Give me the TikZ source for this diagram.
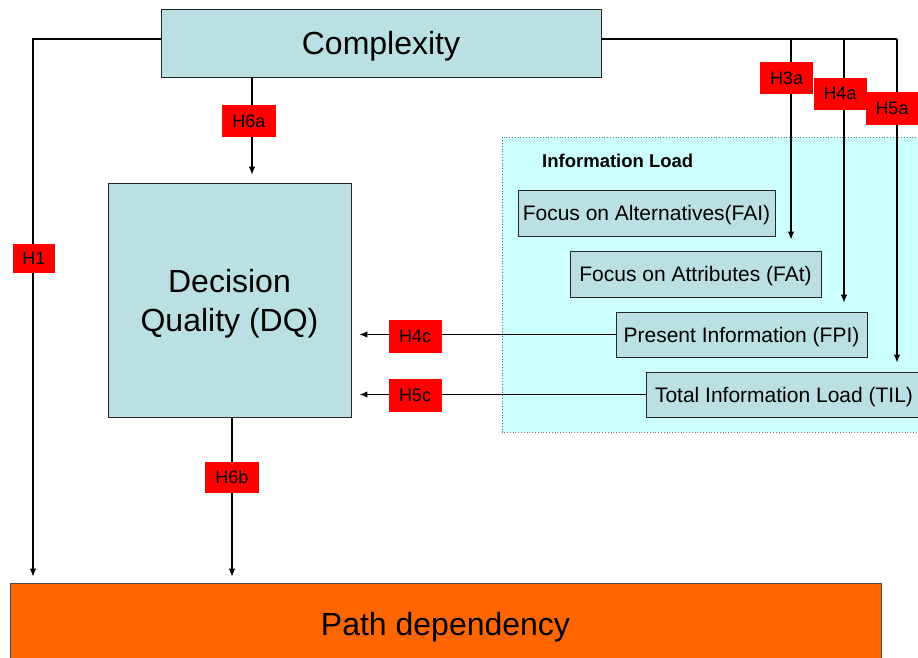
\documentclass[tikz,border=0pt]{standalone}
\usepackage{fontspec}
\setmainfont{Liberation Sans}
\usetikzlibrary{arrows.meta}
\definecolor{boxblue}{RGB}{187,224,228}
\definecolor{loadcyan}{RGB}{204,255,255}
\definecolor{hred}{RGB}{255,0,0}
\definecolor{pathorange}{RGB}{255,102,0}
\tikzset{
  bluebox/.style={draw=black!85, fill=boxblue, line width=0.8pt, inner sep=0pt, text depth=0pt},
  hlab/.style={fill=hred, inner sep=0pt, minimum width=53pt, minimum height=32pt,
    font=\fontsize{18}{18}\selectfont},
  arr/.style={-{Latex[length=8pt,width=6.5pt]}, line width=1.1pt},
}
\begin{document}
\begin{tikzpicture}[x=1pt,y=-1pt]
\useasboundingbox (0,0) rectangle (918,657);
% information load area
\fill[loadcyan] (502,137) rectangle (930,432);
\draw[black!55, dotted, line width=0.8pt] (930,137) -- (502,137) -- (502,432) -- (930,432);
\node[anchor=west, inner sep=0pt, font=\fontsize{18.5}{18.5}\selectfont\bfseries] (il) at (542,161) {Information Load};
% boxes
\node[bluebox, minimum width=440pt, minimum height=68pt, font=\fontsize{32}{32}\selectfont] (cx) at (381,43) {Complexity};
\node[bluebox, minimum width=243pt, minimum height=234pt, align=center,
  font=\fontsize{32}{39}\selectfont] (dq) at (229.5,300) {Decision\\Quality (DQ)};
\node[draw=black!70, fill=pathorange, line width=0.8pt, minimum width=871pt, minimum height=82pt,
  text depth=0pt, font=\fontsize{32}{32}\selectfont] (pd) at (445.5,624) {Path dependency};
\node[bluebox, minimum width=257pt, minimum height=46pt, font=\fontsize{21}{21}\selectfont] (fai) at (646.5,213) {Focus on Alternatives(FAI)};
\node[bluebox, minimum width=251pt, minimum height=46pt, font=\fontsize{21}{21}\selectfont] (fat) at (695.5,274) {Focus on Attributes (FAt)};
\node[bluebox, minimum width=251pt, minimum height=45pt, font=\fontsize{21}{21}\selectfont] (fpi) at (741.5,334.5) {Present Information (FPI)};
\node[bluebox, minimum width=276pt, minimum height=45pt, font=\fontsize{21}{21}\selectfont] (til) at (784,394.5) {Total Information Load (TIL)};
% connectors
\coordinate (h1c) at (33,39);
\coordinate (h3c) at (791,39);
\coordinate (h4c) at (844,39);
\coordinate (h5c) at (897,39);
\coordinate (h6t) at (252,77);
\coordinate (h6s) at (232,417);
\draw[arr, shorten >=6pt] (cx.west |- h1c) -- (h1c) -- (h1c |- pd.north);
\draw[line width=1.1pt] (cx.east |- h1c) -- (h5c);
\draw[arr, shorten >=11pt] (h3c) -- (h3c |- fat.north);
\draw[arr, shorten >=9pt] (h4c) -- (h4c |- fpi.north);
\draw[arr, shorten >=9pt] (h5c) -- (h5c |- til.north);
\draw[arr, shorten >=8pt] (h6t) -- (h6t |- dq.north);
\draw[arr, shorten >=6pt] (h6s) -- (h6s |- pd.north);
\draw[arr, shorten >=8pt] (fpi.west) -- (fpi.west -| dq.east);
\draw[arr, line width=1.7pt, shorten >=8pt] (til.west) -- (til.west -| dq.east);
% hypothesis labels
\node[hlab, minimum width=42pt, minimum height=29pt] (h1) at (34,258.5) {H1};
\node[hlab, minimum width=54pt] (h6a) at (249,121) {H6a};
\node[hlab] (h3a) at (786.5,78) {H3a};
\node[hlab] (h4a) at (840,93.5) {H4a};
\node[hlab, minimum height=33pt] (h5a) at (892,108.5) {H5a};
\node[hlab, minimum height=33pt] (h4cl) at (415,336) {H4c};
\node[hlab, minimum height=33pt] (h5cl) at (415,395.5) {H5c};
\node[hlab, minimum width=54pt, minimum height=31pt] (h6b) at (232,477.5) {H6b};
\end{tikzpicture}
\end{document}
